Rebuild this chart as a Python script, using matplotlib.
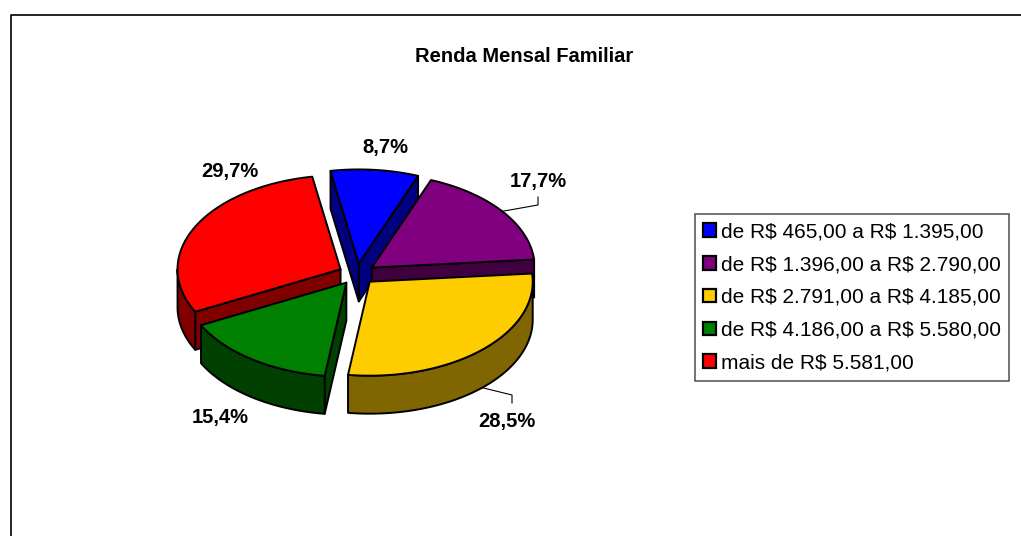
import numpy as np
import matplotlib
matplotlib.use("Agg")
import matplotlib.pyplot as plt
from matplotlib.patches import Polygon, Patch
from matplotlib.lines import Line2D

plt.rcParams['font.family'] = ['Liberation Sans', 'DejaVu Sans']

# ---- data ----
title = "Renda Mensal Familiar"
categories = [
    "de R$ 465,00 a R$ 1.395,00",
    "de R$ 1.396,00 a R$ 2.790,00",
    "de R$ 2.791,00 a R$ 4.185,00",
    "de R$ 4.186,00 a R$ 5.580,00",
    "mais de R$ 5.581,00",
]
values = [8.7, 17.7, 28.5, 15.4, 29.7]
top_colors = ["#0000FF", "#800080", "#FFCC00", "#008000", "#FF0000"]
side_colors = ["#000080", "#400040", "#806600", "#004000", "#800000"]

# ---- layout (pixel coordinates) ----
W, H = 1021, 536
CX, CY = 357, 274
RX, RY = 163, 94
DEPTH = 38
EXPLODE = 18.4
START = -10.0  # degrees clockwise from 12 o'clock
label_pos = [(385, 148), (538, 181), (507, 422), (220, 418), (230, 171)]
leader = {1: [(538, 205), (538, 197)], 2: [(512, 395), (512, 403)]}

fig = plt.figure(figsize=(W / 100, H / 100), dpi=100)
ax = fig.add_axes([0, 0, 1, 1])
ax.set_xlim(0, W)
ax.set_ylim(H, 0)
ax.axis("off")

# chart area border
ax.add_line(Line2D([10.5, 10.5, W], [H, 14.5, 14.5], color="black", lw=1.2))

ax.text(524, 56, title, ha="center", va="center", fontsize=14.5, fontweight="bold")

vals = np.array(values, dtype=float)
frac = vals / vals.sum()
edges = START + 360 * np.concatenate([[0], np.cumsum(frac)])
k = RY / RX
LW = 1.4


def rim(cx, cy, th, dz=0.0):
    t = np.radians(th)
    return cx + RX * np.sin(t), cy - RY * np.cos(t) + dz


slices = []
for i in range(len(vals)):
    a1, a2 = edges[i], edges[i + 1]
    mid = np.radians((a1 + a2) / 2)
    scx = CX + EXPLODE * np.sin(mid)
    scy = CY - EXPLODE * k * np.cos(mid)
    slices.append((i, a1, a2, scx, scy, -np.cos(mid)))

# walls, back to front
for i, a1, a2, scx, scy, depth in sorted(slices, key=lambda s: s[5]):
    polys = []
    if np.sin(np.radians(a1)) < 0:
        x, y = rim(scx, scy, a1)
        polys.append([(scx, scy), (x, y), (x, y + DEPTH), (scx, scy + DEPTH)])
    if np.sin(np.radians(a2)) > 0:
        x, y = rim(scx, scy, a2)
        polys.append([(scx, scy), (x, y), (x, y + DEPTH), (scx, scy + DEPTH)])
    lo, hi = max(a1, 90), min(a2, 270)
    if hi > lo:
        th = np.linspace(lo, hi, 80)
        xs, ys = rim(scx, scy, th)
        pts = list(zip(xs, ys)) + list(zip(xs[::-1], ys[::-1] + DEPTH))
        polys.append(pts)
    for p in polys:
        ax.add_patch(Polygon(p, closed=True, facecolor=side_colors[i],
                             edgecolor="black", lw=LW, joinstyle="round"))

# top faces
for i, a1, a2, scx, scy, depth in slices:
    th = np.linspace(a1, a2, 120)
    xs, ys = rim(scx, scy, th)
    pts = [(scx, scy)] + list(zip(xs, ys))
    ax.add_patch(Polygon(pts, closed=True, facecolor=top_colors[i],
                         edgecolor="black", lw=LW, joinstyle="round"))

# labels
for i, (lx, ly) in enumerate(label_pos):
    txt = f"{values[i]:.1f}%".replace(".", ",")
    ax.text(lx, ly, txt, ha="center", va="center", fontsize=14.5, fontweight="bold")

# leader lines
for i, pts in leader.items():
    a1, a2, scx, scy = slices[i][1], slices[i][2], slices[i][3], slices[i][4]
    m = (a1 + a2) / 2
    x0, y0 = rim(scx, scy, m, DEPTH if np.cos(np.radians(m)) < 0 else 0)
    xs = [x0] + [p[0] for p in pts]
    ys = [y0] + [p[1] for p in pts]
    ax.add_line(Line2D(xs, ys, color="black", lw=0.8))

# legend
handles = [Patch(facecolor=c, edgecolor="black", lw=1.6) for c in top_colors]
leg_labels = [c.replace("$", r"\$") for c in categories]
leg = ax.legend(handles, leg_labels, loc="upper left",
                bbox_to_anchor=(695 / W, 1 - 214 / H), bbox_transform=fig.transFigure,
                fontsize=15.0, frameon=True, fancybox=False, shadow=False,
                handlelength=0.62, handleheight=0.62, handletextpad=0.22,
                labelspacing=0.66, borderpad=0.4, borderaxespad=0)
leg.get_frame().set_edgecolor("#222222")
leg.get_frame().set_linewidth(1.1)

fig.savefig("out.png", dpi=100)
